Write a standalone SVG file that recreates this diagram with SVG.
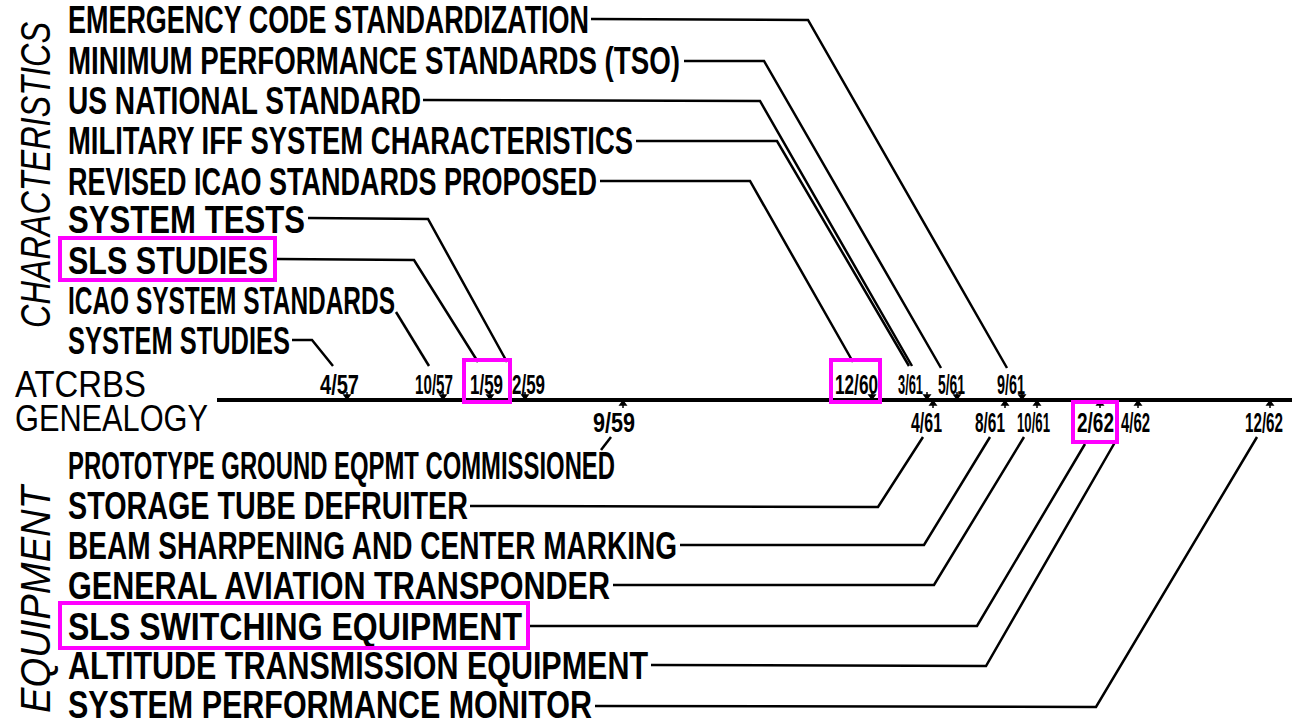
<svg xmlns="http://www.w3.org/2000/svg" width="1300" height="728" viewBox="0 0 1300 728">
<style>
.lbl{font-family:"Liberation Sans",Arial,sans-serif;font-weight:bold;font-size:39px;fill:#000}
.date{font-family:"Liberation Sans",Arial,sans-serif;font-weight:bold;font-size:28px;fill:#000}
.side{font-family:"Liberation Sans",Arial,sans-serif;font-style:italic;font-size:42px;fill:#000}
.title{font-family:"Liberation Sans",Arial,sans-serif;font-size:37px;fill:#000}
.conn{fill:none;stroke:#000;stroke-width:2.5;stroke-linejoin:miter}
.hl{fill:none;stroke:#ff00ff;stroke-width:4}
.tick{fill:#000;stroke:#000;stroke-width:1.5}
</style>
<rect width="1300" height="728" fill="#fff"/>

<g id="side-labels">
<text class="side" transform="translate(50,328) rotate(-90)" textLength="306" lengthAdjust="spacingAndGlyphs">CHARACTERISTICS</text>
<text class="side" transform="translate(50,713) rotate(-90)" textLength="227" lengthAdjust="spacingAndGlyphs">EQUIPMENT</text>
</g>

<g id="title">
<text class="title" x="15" y="397" textLength="131" lengthAdjust="spacingAndGlyphs">ATCRBS</text>
<text class="title" x="15" y="431" textLength="193" lengthAdjust="spacingAndGlyphs">GENEALOGY</text>
</g>

<g id="axis">
<line x1="217" y1="400" x2="1292" y2="400" stroke="#000" stroke-width="4"/>
<g class="tick">
<path d="M347 392V398M344 395L347 399L350 395Z"/>
<path d="M443 392V398M440 395L443 399L446 395Z"/>
<path d="M490 392V398M487 395L490 399L493 395Z"/>
<path d="M525 392V398M522 395L525 399L528 395Z"/>
<path d="M872 392V398M869 395L872 399L875 395Z"/>
<path d="M927 392V398M924 395L927 399L930 395Z"/>
<path d="M957 392V398M954 395L957 399L960 395Z"/>
<path d="M1022 392V398M1019 395L1022 399L1025 395Z"/>
<path d="M623 402V408M620 405L623 401L626 405Z"/>
<path d="M933 402V408M930 405L933 401L936 405Z"/>
<path d="M1005 402V408M1002 405L1005 401L1008 405Z"/>
<path d="M1037 402V408M1034 405L1037 401L1040 405Z"/>
<path d="M1100 402V408M1097 405L1100 401L1103 405Z"/>
<path d="M1138 402V408M1135 405L1138 401L1141 405Z"/>
<path d="M1270 402V408M1267 405L1270 401L1273 405Z"/>
</g>
</g>

<g id="dates">
<text class="date" x="320" y="394" textLength="39" lengthAdjust="spacingAndGlyphs">4/57</text>
<text class="date" x="415" y="394" textLength="38" lengthAdjust="spacingAndGlyphs">10/57</text>
<text class="date" x="470" y="394" textLength="33" lengthAdjust="spacingAndGlyphs">1/59</text>
<text class="date" x="512" y="394" textLength="33" lengthAdjust="spacingAndGlyphs">2/59</text>
<text class="date" x="835" y="394" textLength="43" lengthAdjust="spacingAndGlyphs">12/60</text>
<text class="date" x="898" y="394" textLength="25" lengthAdjust="spacingAndGlyphs">3/61</text>
<text class="date" x="938" y="394" textLength="27" lengthAdjust="spacingAndGlyphs">5/61</text>
<text class="date" x="997" y="394" textLength="28" lengthAdjust="spacingAndGlyphs">9/61</text>
<text class="date" x="593" y="432" textLength="42" lengthAdjust="spacingAndGlyphs">9/59</text>
<text class="date" x="911" y="432" textLength="31" lengthAdjust="spacingAndGlyphs">4/61</text>
<text class="date" x="975" y="432" textLength="30" lengthAdjust="spacingAndGlyphs">8/61</text>
<text class="date" x="1017" y="432" textLength="33" lengthAdjust="spacingAndGlyphs">10/61</text>
<text class="date" x="1077" y="432" textLength="37" lengthAdjust="spacingAndGlyphs">2/62</text>
<text class="date" x="1121" y="432" textLength="29" lengthAdjust="spacingAndGlyphs">4/62</text>
<text class="date" x="1245" y="432" textLength="38" lengthAdjust="spacingAndGlyphs">12/62</text>
</g>

<g id="n-emergency"><text class="lbl" x="68" y="33" textLength="521" lengthAdjust="spacingAndGlyphs">EMERGENCY CODE STANDARDIZATION</text></g>
<g id="n-minimum"><text class="lbl" x="68" y="74" textLength="612" lengthAdjust="spacingAndGlyphs">MINIMUM PERFORMANCE STANDARDS (TSO)</text></g>
<g id="n-usnational"><text class="lbl" x="68" y="114" textLength="353" lengthAdjust="spacingAndGlyphs">US NATIONAL STANDARD</text></g>
<g id="n-military"><text class="lbl" x="68" y="154" textLength="565" lengthAdjust="spacingAndGlyphs">MILITARY IFF SYSTEM CHARACTERISTICS</text></g>
<g id="n-revised"><text class="lbl" x="68" y="195" textLength="529" lengthAdjust="spacingAndGlyphs">REVISED ICAO STANDARDS PROPOSED</text></g>
<g id="n-systemtests"><text class="lbl" x="68" y="233" textLength="237" lengthAdjust="spacingAndGlyphs">SYSTEM TESTS</text></g>
<g id="n-slsstudies"><text class="lbl" x="68" y="274" textLength="200" lengthAdjust="spacingAndGlyphs">SLS STUDIES</text></g>
<g id="n-icao"><text class="lbl" x="68" y="314" textLength="327" lengthAdjust="spacingAndGlyphs">ICAO SYSTEM STANDARDS</text></g>
<g id="n-systemstudies"><text class="lbl" x="68" y="354" textLength="222" lengthAdjust="spacingAndGlyphs">SYSTEM STUDIES</text></g>

<g id="n-prototype"><text class="lbl" x="68" y="479" textLength="547" lengthAdjust="spacingAndGlyphs">PROTOTYPE GROUND EQPMT COMMISSIONED</text></g>
<g id="n-storage"><text class="lbl" x="68" y="519" textLength="400" lengthAdjust="spacingAndGlyphs">STORAGE TUBE DEFRUITER</text></g>
<g id="n-beam"><text class="lbl" x="68" y="559" textLength="609" lengthAdjust="spacingAndGlyphs">BEAM SHARPENING AND CENTER MARKING</text></g>
<g id="n-general"><text class="lbl" x="68" y="599" textLength="542" lengthAdjust="spacingAndGlyphs">GENERAL AVIATION TRANSPONDER</text></g>
<g id="n-slsswitching"><text class="lbl" x="68" y="640" textLength="454" lengthAdjust="spacingAndGlyphs">SLS SWITCHING EQUIPMENT</text></g>
<g id="n-altitude"><text class="lbl" x="68" y="679" textLength="580" lengthAdjust="spacingAndGlyphs">ALTITUDE TRANSMISSION EQUIPMENT</text></g>
<g id="n-monitor"><text class="lbl" x="68" y="718" textLength="524" lengthAdjust="spacingAndGlyphs">SYSTEM PERFORMANCE MONITOR</text></g>

<g id="connectors">
<polyline class="conn" points="591,19 808,20 1007,368"/>
<polyline class="conn" points="684,61 764,61 941,368"/>
<polyline class="conn" points="423,100 760,101 912,366"/>
<polyline class="conn" points="636,141 777,141 909,366"/>
<polyline class="conn" points="600,181 750,181 853,362"/>
<polyline class="conn" points="308,218 428,219 507,362"/>
<polyline class="conn" points="277,259 414,260 478,362"/>
<polyline class="conn" points="396,312 429,366"/>
<polyline class="conn" points="292,340 312,340 333,366"/>
<polyline class="conn" points="611,437 601,450"/>
<polyline class="conn" points="470,506 878,507 923,437"/>
<polyline class="conn" points="680,545 924,545 990,437"/>
<polyline class="conn" points="613,585 934,585 1024,437"/>
<polyline class="conn" points="530,626 977,626 1085,444"/>
<polyline class="conn" points="651,665 986,666 1118,437"/>
<polyline class="conn" points="595,706 1096,707 1257,437"/>
</g>

<g id="highlights">
<rect class="hl" x="60" y="238" width="215" height="42"/>
<rect class="hl" x="464" y="360" width="46" height="42"/>
<rect class="hl" x="831" y="360" width="49" height="42"/>
<rect class="hl" x="1073" y="402" width="44" height="40"/>
<rect class="hl" x="60" y="603" width="468" height="45"/>
</g>
</svg>
